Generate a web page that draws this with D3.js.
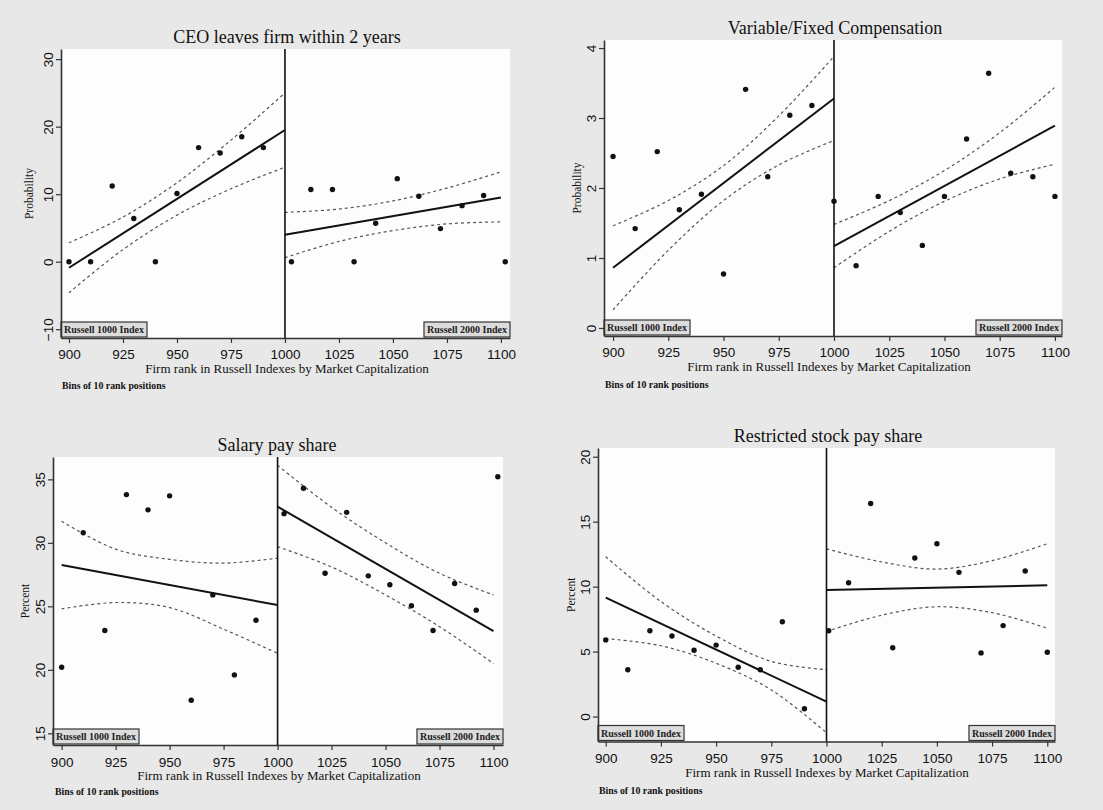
<!DOCTYPE html>
<html>
<head>
<meta charset="utf-8">
<script src="https://cdn.jsdelivr.net/npm/d3@7"></script>
<style>
  html, body { margin: 0; padding: 0; background: #e8e8e8; }
  svg { display: block; }
</style>
</head>
<body>
<svg id="chart" width="1103" height="810"></svg>
<script>
// ---- Shared axis values ----
const xTickValues = [900, 925, 950, 975, 1000, 1025, 1050, 1075, 1100];
const leftBins = [900, 910, 920, 930, 940, 950, 960, 970, 980, 990];
const fitLeftX = [900, 1000];
const fitRightX = [1000, 1100];
const ciLeftX = [900, 925, 950, 975, 1000];
const ciRightX = [1000, 1025, 1050, 1075, 1100];
const xAxisTitle = "Firm rank in Russell Indexes by Market Capitalization";
const binsNote = "Bins of 10 rank positions";
const leftIndexLabel = "Russell 1000 Index";
const rightIndexLabel = "Russell 2000 Index";
const cutoff = 1000;

// ---- CEO leaves firm within 2 years ----
const ceoTitle = "CEO leaves firm within 2 years";
const ceoYLabel = "Probability";
const ceoYTicks = [-10, 0, 10, 20, 30];
const ceoLeftY = [0, 0, 11.2, 6.4, 0, 10.1, 16.9, 16.1, 18.5, 16.9];
const ceoRightX = [1003, 1012, 1022, 1032, 1042, 1052, 1062, 1072, 1082, 1092, 1102];
const ceoRightY = [0, 10.7, 10.7, 0, 5.7, 12.3, 9.7, 4.9, 8.3, 9.8, 0];
const ceoFitLeft = [-0.9, 19.5];
const ceoFitRight = [4.0, 9.5];
const ceoCiLeftHi = [2.8, 6.6, 11.7, 18.0, 25.0];
const ceoCiLeftLo = [-4.6, 1.8, 6.9, 10.8, 14.0];
const ceoCiRightHi = [7.3, 7.8, 9.0, 10.9, 13.3];
const ceoCiRightLo = [0.6, 3.0, 4.6, 5.6, 5.9];

// ---- Variable/Fixed Compensation ----
const varTitle = "Variable/Fixed Compensation";
const varYLabel = "Probability";
const varYTicks = [0, 1, 2, 3, 4];
const varLeftY = [2.45, 1.42, 2.52, 1.69, 1.91, 0.77, 3.41, 2.16, 3.04, 3.18];
const varRightX = [1000, 1010, 1020, 1030, 1040, 1050, 1060, 1070, 1080, 1090, 1100];
const varRightY = [1.81, 0.89, 1.88, 1.65, 1.18, 1.88, 2.70, 3.64, 2.21, 2.16, 1.88];
const varFitLeft = [0.86, 3.28];
const varFitRight = [1.17, 2.89];
const varCiLeftHi = [1.46, 1.82, 2.32, 3.03, 3.88];
const varCiLeftLo = [0.26, 1.11, 1.82, 2.33, 2.68];
const varCiRightHi = [1.48, 1.82, 2.25, 2.79, 3.44];
const varCiRightLo = [0.86, 1.38, 1.81, 2.13, 2.34];

// ---- Salary pay share ----
const salTitle = "Salary pay share";
const salYLabel = "Percent";
const salYTicks = [15, 20, 25, 30, 35];
const salLeftY = [20.2, 30.8, 23.1, 33.8, 32.6, 33.7, 17.6, 25.9, 19.6, 23.9];
const salRightX = [1003, 1012, 1022, 1032, 1042, 1052, 1062, 1072, 1082, 1092, 1102];
const salRightY = [32.3, 34.3, 27.6, 32.4, 27.4, 26.7, 25.05, 23.1, 26.8, 24.7, 35.2];
const salFitLeft = [28.25, 25.1];
const salFitRight = [32.85, 23.05];
const salCiLeftHi = [31.7, 29.5, 28.7, 28.4, 28.8];
const salCiLeftLo = [24.8, 25.3, 24.9, 23.2, 21.3];
const salCiRightHi = [36.1, 32.8, 30.0, 27.6, 25.9];
const salCiRightLo = [29.7, 28.1, 25.9, 23.4, 20.5];

// ---- Restricted stock pay share ----
const rsTitle = "Restricted stock pay share";
const rsYLabel = "Percent";
const rsYTicks = [0, 5, 10, 15, 20];
const rsLeftY = [5.9, 3.6, 6.6, 6.2, 5.1, 5.5, 3.8, 3.6, 7.3, 0.6];
const rsRightX = [1001, 1010, 1020, 1030, 1040, 1050, 1060, 1070, 1080, 1090, 1100];
const rsRightY = [6.6, 10.3, 16.4, 5.3, 12.2, 13.3, 11.1, 4.9, 7.0, 11.2, 4.95];
const rsFitLeft = [9.15, 1.15];
const rsFitRight = [9.75, 10.1];
const rsCiLeftHi = [12.3, 8.85, 6.2, 4.25, 3.6];
const rsCiLeftLo = [6.0, 5.45, 4.1, 2.05, -1.25];
const rsCiRightHi = [12.9, 11.9, 11.35, 12.0, 13.3];
const rsCiRightLo = [6.55, 7.8, 8.45, 8.0, 6.8];

const SERIF = "'Liberation Serif', 'Times New Roman', serif";
const SANS = "'Liberation Sans', Arial, sans-serif";

const svg = d3.select("#chart");

// Panel frames (pixel layout of each plot region)
const panels = [
  {
    title: ceoTitle, yLabel: ceoYLabel, yTicks: ceoYTicks,
    leftY: ceoLeftY, rightX: ceoRightX, rightY: ceoRightY,
    fitLeft: ceoFitLeft, fitRight: ceoFitRight,
    ciLeftHi: ceoCiLeftHi, ciLeftLo: ceoCiLeftLo, ciRightHi: ceoCiRightHi, ciRightLo: ceoCiRightLo,
    frame: { left: 61, right: 510, top: 49, bottom: 338 },
    xDomain: [896.3, 1104.2], yDomain: [-11.3, 31.5],
    titleY: 43, titleX: 287, yLabelX: 33, tickBase: 21, axisTitleY: 372.5, axisTitleX: 287,
    binsY: 389, binsX: 62
  },
  {
    title: varTitle, yLabel: varYLabel, yTicks: varYTicks,
    leftY: varLeftY, rightX: varRightX, rightY: varRightY,
    fitLeft: varFitLeft, fitRight: varFitRight,
    ciLeftHi: varCiLeftHi, ciLeftLo: varCiLeftLo, ciRightHi: varCiRightHi, ciRightLo: varCiRightLo,
    frame: { left: 604, right: 1062, top: 40, bottom: 336 },
    xDomain: [895.9, 1103.2], yDomain: [-0.115, 4.115],
    titleY: 33.5, titleX: 835, yLabelX: 581, tickBase: 21, axisTitleY: 370.5, axisTitleX: 829,
    binsY: 387.5, binsX: 605
  },
  {
    title: salTitle, yLabel: salYLabel, yTicks: salYTicks,
    leftY: salLeftY, rightX: salRightX, rightY: salRightY,
    fitLeft: salFitLeft, fitRight: salFitRight,
    ciLeftHi: salCiLeftHi, ciLeftLo: salCiLeftLo, ciRightHi: salCiRightHi, ciRightLo: salCiRightLo,
    frame: { left: 53, right: 503, top: 457, bottom: 745 },
    xDomain: [896, 1104.4], yDomain: [14.08, 36.76],
    titleY: 451, titleX: 277, yLabelX: 29, tickBase: 21.5, axisTitleY: 779.5, axisTitleX: 279,
    binsY: 795, binsX: 55
  },
  {
    title: rsTitle, yLabel: rsYLabel, yTicks: rsYTicks,
    leftY: rsLeftY, rightX: rsRightX, rightY: rsRightY,
    fitLeft: rsFitLeft, fitRight: rsFitRight,
    ciLeftHi: rsCiLeftHi, ciLeftLo: rsCiLeftLo, ciRightHi: rsCiRightHi, ciRightLo: rsCiRightLo,
    frame: { left: 598, right: 1055, top: 448, bottom: 741.5 },
    xDomain: [896.5, 1103.5], yDomain: [-1.92, 20.67],
    titleY: 441.5, titleX: 828, yLabelX: 575, tickBase: 21.5, axisTitleY: 777, axisTitleX: 827,
    binsY: 794, binsX: 599
  }
];

function drawPanel(p) {
  const f = p.frame;
  const g = svg.append("g");
  const x = d3.scaleLinear().domain(p.xDomain).range([f.left, f.right]);
  const y = d3.scaleLinear().domain(p.yDomain).range([f.bottom, f.top]);

  // plot background
  g.append("rect")
    .attr("x", f.left).attr("y", f.top)
    .attr("width", f.right - f.left).attr("height", f.bottom - f.top)
    .attr("fill", "#fdfdfd");

  // confidence bands (dashed)
  const curve = d3.line().x(d => x(d[0])).y(d => y(d[1])).curve(d3.curveCatmullRom.alpha(0.5));
  const bands = [
    d3.zip(ciLeftX, p.ciLeftHi), d3.zip(ciLeftX, p.ciLeftLo),
    d3.zip(ciRightX, p.ciRightHi), d3.zip(ciRightX, p.ciRightLo)
  ];
  g.selectAll("path.ci").data(bands).join("path")
    .attr("class", "ci")
    .attr("d", curve)
    .attr("fill", "none")
    .attr("stroke", "#555")
    .attr("stroke-width", 1.2)
    .attr("stroke-dasharray", "3,3");

  // fitted lines
  const straight = d3.line().x(d => x(d[0])).y(d => y(d[1]));
  const fits = [d3.zip(fitLeftX, p.fitLeft), d3.zip(fitRightX, p.fitRight)];
  g.selectAll("path.fit").data(fits).join("path")
    .attr("class", "fit")
    .attr("d", straight)
    .attr("fill", "none")
    .attr("stroke", "#111")
    .attr("stroke-width", 2);

  // binned means
  const pts = d3.zip(leftBins, p.leftY).concat(d3.zip(p.rightX, p.rightY));
  g.selectAll("circle.pt").data(pts).join("circle")
    .attr("class", "pt")
    .attr("cx", d => x(d[0])).attr("cy", d => y(d[1]))
    .attr("r", 2.7)
    .attr("fill", "#111");

  // cutoff line at rank 1000
  g.append("line")
    .attr("x1", x(cutoff)).attr("x2", x(cutoff))
    .attr("y1", f.top).attr("y2", f.bottom)
    .attr("stroke", "#111").attr("stroke-width", 1.6);

  // index label boxes
  const boxH = 15;
  function labelBox(text, anchorLeft) {
    const bg = g.append("g");
    const t = bg.append("text")
      .attr("font-family", SERIF).attr("font-size", 10).attr("font-weight", "bold")
      .attr("fill", "#222")
      .text(text);
    const w = t.node().getComputedTextLength() + 6;
    const bx = anchorLeft ? f.left : f.right - w;
    const by = f.bottom - boxH - 1;
    bg.insert("rect", "text")
      .attr("x", bx).attr("y", by).attr("width", w).attr("height", boxH)
      .attr("fill", "#dcdcdc").attr("stroke", "#333").attr("stroke-width", 1.2);
    t.attr("x", bx + 3).attr("y", by + 11);
  }
  labelBox(leftIndexLabel, true);
  labelBox(rightIndexLabel, false);

  // y axis
  const yAxis = g.append("g")
    .attr("transform", `translate(${f.left},0)`)
    .call(d3.axisLeft(y).tickValues(p.yTicks).tickSize(5).tickSizeOuter(0).tickFormat(d3.format("d")));
  yAxis.select(".domain").attr("stroke", "#333").attr("stroke-width", 1.6);
  yAxis.selectAll(".tick line").attr("stroke", "#333").attr("stroke-width", 1.2);
  yAxis.selectAll(".tick text")
    .attr("font-family", SANS).attr("font-size", 13.5).attr("fill", "#111")
    .attr("transform", "rotate(-90)")
    .attr("x", 0).attr("y", -8.5).attr("dy", 0)
    .attr("text-anchor", "middle");

  // x axis
  const xAxis = g.append("g")
    .attr("transform", `translate(0,${f.bottom})`)
    .call(d3.axisBottom(x).tickValues(xTickValues).tickSize(5).tickSizeOuter(0).tickFormat(d3.format("d")));
  xAxis.select(".domain").attr("stroke", "#333").attr("stroke-width", 1.6);
  xAxis.selectAll(".tick line").attr("stroke", "#333").attr("stroke-width", 1.2);
  xAxis.selectAll(".tick text")
    .attr("font-family", SANS).attr("font-size", 13.5).attr("fill", "#111")
    .attr("y", p.tickBase).attr("dy", 0);

  // titles and notes
  g.append("text")
    .attr("x", p.titleX).attr("y", p.titleY)
    .attr("text-anchor", "middle")
    .attr("font-family", SERIF).attr("font-size", 18).attr("fill", "#111")
    .text(p.title);

  g.append("text")
    .attr("transform", `translate(${p.yLabelX},${(f.top + f.bottom) / 2}) rotate(-90)`)
    .attr("text-anchor", "middle")
    .attr("font-family", SERIF).attr("font-size", 11.5).attr("fill", "#111")
    .text(p.yLabel);

  g.append("text")
    .attr("x", p.axisTitleX).attr("y", p.axisTitleY)
    .attr("text-anchor", "middle")
    .attr("font-family", SERIF).attr("font-size", 13).attr("fill", "#111")
    .text(xAxisTitle);

  g.append("text")
    .attr("x", p.binsX).attr("y", p.binsY)
    .attr("font-family", SERIF).attr("font-size", 9.8).attr("font-weight", "bold").attr("fill", "#111")
    .text(binsNote);
}

panels.forEach(drawPanel);
</script>
</body>
</html>
